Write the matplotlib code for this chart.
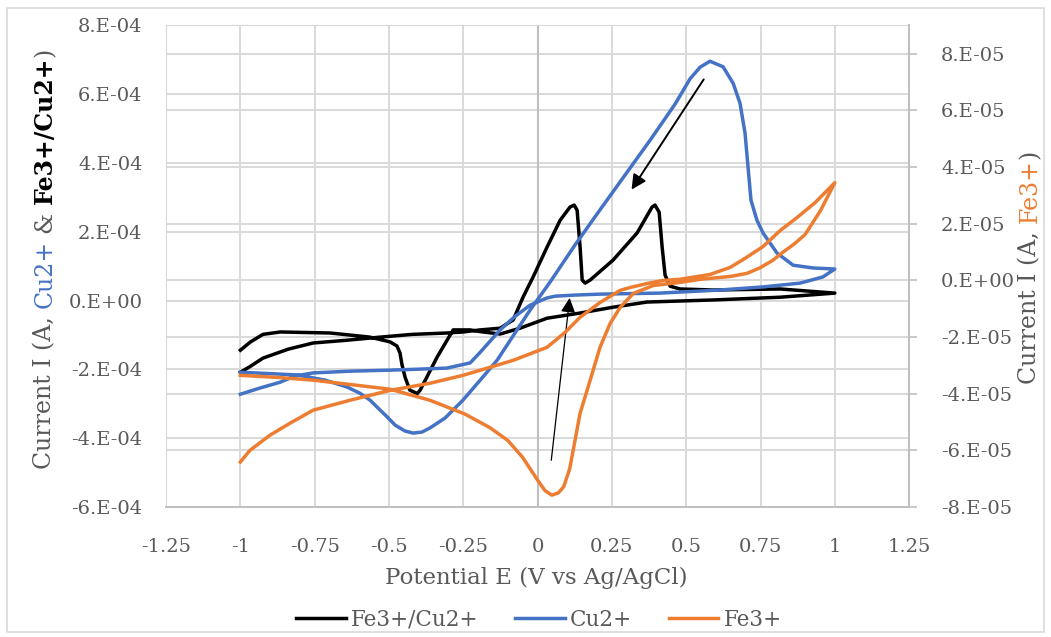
import numpy as np
import matplotlib
matplotlib.use("Agg")
import matplotlib.pyplot as plt
import matplotlib.transforms as mtransforms
from matplotlib.patches import Rectangle
from matplotlib.ticker import FixedLocator, FuncFormatter

plt.rcParams["font.family"] = ["DejaVu Serif"]

# Fe3+/Cu2+ (left axis, A) - forward sweep then reverse sweep
fecu_e = [-1.00, -0.97, -0.924, -0.839, -0.755, -0.641, -0.530, -0.422, -0.305, -0.251,
          -0.193, -0.126, -0.082, -0.049, -0.015, 0.032, 0.076, 0.109, 0.123, 0.133,
          0.143, 0.150, 0.160, 0.177, 0.254, 0.335, 0.385, 0.395, 0.409, 0.419,
          0.429, 0.446, 0.479, 0.590, 0.816, 1.00,
          0.816, 0.590, 0.368, 0.254, 0.143, 0.032, -0.059, -0.126, -0.193, -0.227,
          -0.284, -0.338, -0.395, -0.405, -0.43, -0.446, -0.456, -0.463, -0.473, -0.496,
          -0.564, -0.698, -0.866, -0.924, -0.966, -1.00]
fecu_i = np.array([-2.08, -1.93, -1.67, -1.41, -1.23, -1.15, -1.06, -0.98, -0.94, -0.91,
                   -0.85, -0.80, -0.56, 0.10, 0.69, 1.56, 2.34, 2.72, 2.78, 2.63,
                   1.56, 0.60, 0.51, 0.60, 1.18, 1.97, 2.72, 2.78, 2.57, 1.56,
                   0.74, 0.42, 0.34, 0.31, 0.34, 0.22,
                   0.10, 0.02, -0.04, -0.19, -0.36, -0.51, -0.80, -0.97, -0.90, -0.85,
                   -0.85, -1.64, -2.60, -2.70, -2.60, -2.22, -1.87, -1.52, -1.32, -1.20,
                   -1.06, -0.94, -0.91, -0.98, -1.20, -1.44]) * 1e-4

# Cu2+ (left axis, A)
cu_e = [-1.00, -0.809, -0.715, -0.641, -0.598, -0.564, -0.530, -0.506, -0.479, -0.446,
        -0.419, -0.389, -0.362, -0.311, -0.251, -0.193, -0.136, -0.076, -0.025, 0.042,
        0.126, 0.210, 0.294, 0.379, 0.463, 0.513, 0.547, 0.580, 0.624, 0.658,
        0.681, 0.698, 0.708, 0.718, 0.738, 0.759, 0.806, 0.860, 0.927, 1.00,
        0.960, 0.883, 0.759, 0.614, 0.412, 0.210, 0.119, 0.059, 0.032, -0.025,
        -0.075, -0.126, -0.193, -0.227, -0.305, -0.395, -0.496, -0.631, -0.755,
        -0.816, -0.866, -0.934, -1.00]
cu_i = np.array([-2.08, -2.16, -2.31, -2.51, -2.69, -2.89, -3.18, -3.38, -3.62, -3.79,
                 -3.85, -3.82, -3.70, -3.41, -2.89, -2.31, -1.73, -0.94, -0.27, 0.54,
                 1.62, 2.64, 3.65, 4.67, 5.72, 6.45, 6.79, 6.96, 6.80, 6.32,
                 5.74, 4.87, 3.89, 2.92, 2.34, 1.96, 1.38, 1.03, 0.95, 0.92,
                 0.69, 0.51, 0.40, 0.31, 0.22, 0.19, 0.16, 0.13, 0.08, -0.13,
                 -0.45, -0.85, -1.50, -1.81, -1.96, -1.99, -2.02, -2.05, -2.10,
                 -2.19, -2.37, -2.54, -2.72]) * 1e-4

# Fe3+ (right axis, A)
fe_e = [-1.00, -0.88, -0.755, -0.496, -0.362, -0.244, -0.160, -0.100, -0.050, -0.025,
        0.000, 0.025, 0.048, 0.070, 0.088, 0.108, 0.125, 0.143, 0.177, 0.210,
        0.244, 0.278, 0.322, 0.389, 0.479, 0.547, 0.648, 0.705, 0.749, 0.790,
        0.826, 0.865, 0.900, 0.951, 1.00,
        0.934, 0.873, 0.816, 0.759, 0.698, 0.648, 0.580, 0.479, 0.422, 0.368,
        0.311, 0.278, 0.210, 0.143, 0.093, 0.032, -0.082, -0.193, -0.251, -0.362,
        -0.496, -0.631, -0.755, -0.833, -0.90, -0.968, -1.00]
fe_i = np.array([-3.35, -3.42, -3.52, -3.84, -4.23, -4.72, -5.20, -5.65, -6.25, -6.65,
                 -7.05, -7.42, -7.58, -7.50, -7.28, -6.65, -5.70, -4.69, -3.52, -2.36,
                 -1.52, -0.95, -0.46, -0.18, -0.07, 0.04, 0.14, 0.25, 0.45, 0.70,
                 1.00, 1.30, 1.62, 2.45, 3.45,
                 2.75, 2.22, 1.76, 1.20, 0.78, 0.46, 0.21, 0.04, 0.00, -0.11,
                 -0.25, -0.35, -0.78, -1.30, -1.83, -2.36, -2.82, -3.17, -3.35, -3.63,
                 -3.88, -4.23, -4.58, -5.04, -5.46, -6.00, -6.41]) * 1e-5

x_ticks = np.arange(-1.25, 1.26, 0.25)
left_ticks = np.arange(-6, 9, 2) * 1e-4
right_ticks = np.arange(-8, 9, 2) * 1e-5

text_c = "#595959"
grid_c = "#d9d9d9"
axis_c = "#bfbfbf"
black, blue, orange = "#000000", "#4472C4", "#ED7D31"

fig = plt.figure(figsize=(10.51, 6.37), dpi=100)
ax = fig.add_axes([0.158, 0.204, 0.707, 0.756])
ax2 = ax.twinx()

ax.set_xlim(-1.25, 1.25)
ax.set_ylim(-6e-4, 8e-4)
ax2.set_ylim(-8e-5, 9e-5)

ax.xaxis.set_major_locator(FixedLocator(x_ticks))
ax.xaxis.set_major_formatter(FuncFormatter(lambda v, p: "{:g}".format(round(v, 2))))
ax.yaxis.set_major_locator(FixedLocator(left_ticks))
ax.yaxis.set_major_formatter(FuncFormatter(lambda v, p: "{:#.0E}".format(v)))
ax2.yaxis.set_major_locator(FixedLocator(right_ticks))
ax2.yaxis.set_major_formatter(FuncFormatter(lambda v, p: "{:#.0E}".format(v)))

ax.grid(True, color=grid_c, lw=1.4, zorder=0)
ax.set_axisbelow(True)
# secondary-axis gridlines, drawn on the primary axes so they stay behind the curves
gtrans = mtransforms.blended_transform_factory(ax.transAxes, ax2.transData)
for t in right_ticks:
    ax.plot([0, 1], [t, t], transform=gtrans, color=grid_c, lw=1.4, zorder=0.5)
ax.axvline(0, color=axis_c, lw=1.5, zorder=0.8)

ax.tick_params(axis="both", length=0, labelsize=14, labelcolor=text_c)
ax.tick_params(axis="y", pad=17)
ax.tick_params(axis="x", pad=22)
ax2.tick_params(axis="y", length=6, width=1.2, color=axis_c, direction="out",
                labelsize=14, labelcolor=text_c, pad=17)

for side in ["left", "top"]:
    ax.spines[side].set_color(grid_c)
    ax2.spines[side].set_visible(False)
ax.spines["bottom"].set_color(axis_c)
ax.spines["bottom"].set_linewidth(1.4)
ax.spines["right"].set_visible(False)
ax2.spines["bottom"].set_visible(False)
ax2.spines["right"].set_color(axis_c)
ax2.spines["right"].set_linewidth(1.4)

l1, = ax.plot(fecu_e, fecu_i, color=black, lw=2.5, label="Fe3+/Cu2+", zorder=3,
              solid_joinstyle="round")
l2, = ax.plot(cu_e, cu_i, color=blue, lw=2.5, label="Cu2+", zorder=3,
              solid_joinstyle="round")
l3, = ax2.plot(fe_e, fe_i, color=orange, lw=2.5, label="Fe3+", zorder=3,
               solid_joinstyle="round")

# sweep-direction arrows
ax.annotate("", xy=(0.311, 3.16e-4), xytext=(0.564, 6.5e-4),
            arrowprops=dict(arrowstyle="-|>", color="black", lw=1.4, mutation_scale=22),
            zorder=5)
ax.annotate("", xy=(0.109, 0.16e-4), xytext=(0.045, -4.72e-4),
            arrowprops=dict(arrowstyle="-|>", color="black", lw=0.9, mutation_scale=22),
            zorder=5)

ax.set_xlabel("Potential E (V vs Ag/AgCl)", fontsize=16.5, color=text_c)
ax.xaxis.set_label_coords(0.51, 0.093, transform=fig.transFigure)
ax.xaxis.label.set_verticalalignment("center")


def stacked_label(x, yc, pieces, size):
    """Vertical multi-colour label, pieces laid bottom to top."""
    renderer = fig.canvas.get_renderer()
    gap = 0.318 * size * fig.dpi / 72
    items = []
    total = 0
    for s, c, w, sp in pieces:
        t = fig.text(0, 0, s, rotation=90, color=c, fontweight=w, fontsize=size,
                     ha="center", va="bottom")
        h = t.get_window_extent(renderer).height
        items.append((t, h, sp))
        total += h + (gap if sp else 0)
    H = fig.get_figheight() * fig.dpi
    y = yc * H - total / 2
    for t, h, sp in items:
        t.set_position((x, y / H))
        y += h + (gap if sp else 0)


stacked_label(0.043, 0.595, [("Current I (A,", text_c, "normal", True),
                             ("Cu2+", blue, "normal", True),
                             ("&", text_c, "normal", True),
                             ("Fe3+/Cu2+", black, "bold", False),
                             (")", text_c, "normal", False)], 17)
stacked_label(0.980, 0.581, [("Current I (A,", text_c, "normal", True),
                             ("Fe3+", orange, "normal", False),
                             (")", text_c, "normal", False)], 17)

fig.legend(handles=[l1, l2, l3], loc="center", bbox_to_anchor=(0.513, 0.027), ncol=3,
           frameon=False, fontsize=15.5, labelcolor=text_c, handlelength=2.3,
           handletextpad=0.25, columnspacing=1.7)

fig.patches.append(Rectangle((0.0067, 0.008), 0.987, 0.979, transform=fig.transFigure,
                             fill=False, edgecolor=grid_c, lw=1.2))

fig.savefig("out.png", dpi=100)
